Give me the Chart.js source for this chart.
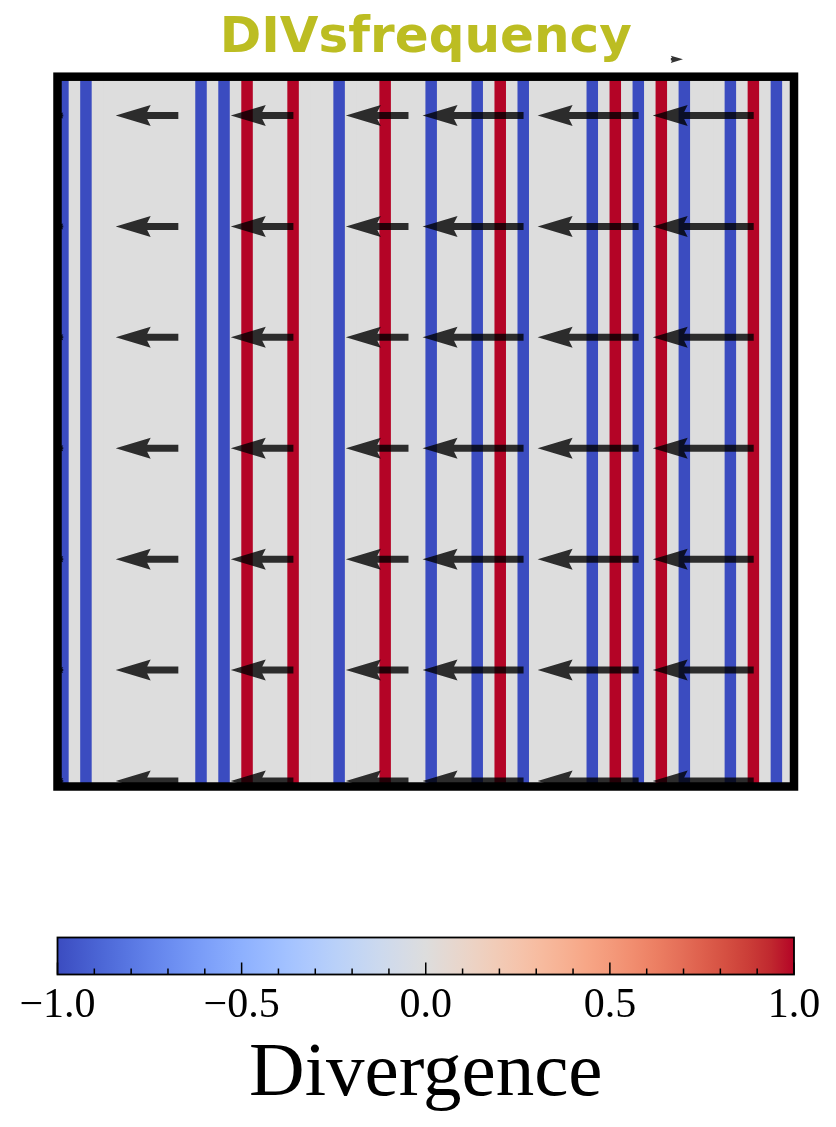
<!DOCTYPE html>
<html><head><meta charset="utf-8">
<script src="https://cdn.jsdelivr.net/npm/chart.js@4.4.1/dist/chart.umd.min.js"></script>
<style>
html,body{margin:0;padding:0;background:#fff;width:836px;height:1127px;overflow:hidden}
#main{position:absolute;left:0;top:0}
#cbar{position:absolute;left:0;top:880px}
</style></head><body>
<canvas id="main" width="836" height="830"></canvas>
<canvas id="cbar" width="836" height="247"></canvas>
<script>
// ---------------- data ----------------
// divergence value of each of the 64 grid columns (field is uniform along y)
const divergence = [
  -1, 0, -1, 0, 0, 0, 0, 0, 0, 0, 0, 0, -1, 0, -1, 0,
   1, 0, 0, 0, 1, 0, 0, 0, -1, 0, 0, 0, 1, 0, 0, 0,
  -1, 0, 0, 0, -1, 0, 1, 0, -1, 0, 0, 0, 0, 0, -1, 0,
   1, 0, -1, 0, 1, 0, -1, 0, 0, 0, -1, 0, 1, 0, -1, 0
];
const gridRows = 64;
const gridCols = 64;
// quiver sample positions (cell centres, every 10th cell)
const quiverX = [0.5, 10.5, 20.5, 30.5, 40.5, 50.5, 60.5];
const quiverY = [0.5, 10.5, 20.5, 30.5, 40.5, 50.5, 60.5];
// velocity components at each quiver column (same for every row)
const quiverU = [-0.1, -0.62, -0.62, -0.62, -1.0, -1.0, -1.0];
const quiverV = [0, 0, 0, 0, 0, 0, 0];
const keyU = 0.12;
// colour bar ticks
const cbTicks = [-1, -0.5, 0, 0.5, 1];
const cbTickLabels = ['\u22121.0', '\u22120.5', '0.0', '0.5', '1.0'];
const cbMinorTicks = [-0.9, -0.8, -0.7, -0.6, -0.4, -0.3, -0.2, -0.1, 0.1, 0.2, 0.3, 0.4, 0.6, 0.7, 0.8, 0.9];

// ---------------- colormap (coolwarm) ----------------
const coolwarmStops = [
  [59,76,192],[68,90,204],[77,104,215],[87,117,225],[98,130,234],[108,142,241],[119,154,247],[130,165,251],
  [141,176,254],[152,185,255],[163,194,255],[174,201,253],[184,208,249],[194,213,244],[204,217,238],[213,219,230],
  [221,221,221],[229,216,209],[236,211,197],[241,204,184],[245,196,172],[247,187,159],[247,177,147],[247,166,134],
  [244,154,123],[241,141,111],[236,127,99],[229,112,89],[222,96,77],[213,80,66],[203,62,56],[192,40,47],[180,4,38]
];
function coolwarm(v) {
  let t = Math.max(0, Math.min(1, (v + 1) / 2)) * (coolwarmStops.length - 1);
  const i = Math.min(Math.floor(t), coolwarmStops.length - 2), f = t - i;
  const a = coolwarmStops[i], b = coolwarmStops[i + 1];
  return 'rgb(' + a.map((c, k) => Math.round(c + (b[k] - c) * f)).join(',') + ')';
}

// ---------------- quiver drawing ----------------
const QSCALE = 8.78;       // x-data units per velocity unit
const QWIDTH = 7;          // shaft width px
const HEADWIDTH = 3, HEADLENGTH = 5, HEADAXIS = 4.5, MINLENGTH = 1;
function arrow(ctx, x0, y0, x1, y1) {
  const w = QWIDTH;
  const L = Math.hypot(x1 - x0, y1 - y0);
  const ang = Math.atan2(y1 - y0, x1 - x0);
  ctx.save();
  ctx.translate(x0, y0); ctx.rotate(ang);
  ctx.beginPath();
  if (L < MINLENGTH * w) {
    for (let k = 0; k < 6; k++) {
      const th = k * Math.PI / 3, r = 0.5 * MINLENGTH * w;
      k ? ctx.lineTo(r * Math.cos(th), r * Math.sin(th)) : ctx.moveTo(r, 0);
    }
  } else {
    let xs, ys;
    if (L < HEADLENGTH * w) {
      const s = L / (HEADLENGTH * w);
      xs = [0, (HEADLENGTH - HEADAXIS) * w * s, 0, L];
      ys = [0.5 * w * s, 0.5 * w * s, 0.5 * HEADWIDTH * w * s, 0];
    } else {
      xs = [0, L - HEADAXIS * w, L - HEADLENGTH * w, L];
      ys = [0.5 * w, 0.5 * w, 0.5 * HEADWIDTH * w, 0];
    }
    ctx.moveTo(xs[0], -ys[0]);
    for (let k = 1; k < 4; k++) ctx.lineTo(xs[k], -ys[k]);
    for (let k = 2; k >= 0; k--) ctx.lineTo(xs[k], ys[k]);
  }
  ctx.closePath();
  ctx.fill();
  ctx.restore();
}

const bgPlugin = {
  id: 'bg',
  beforeDatasetsDraw(chart) {
    const {ctx, chartArea: a} = chart;
    ctx.save(); ctx.fillStyle = coolwarm(0);
    ctx.fillRect(a.left, a.top, a.right - a.left, a.bottom - a.top);
    ctx.restore();
  }
};
const quiverPlugin = {
  id: 'quiver',
  afterDatasetsDraw(chart) {
    const {ctx, chartArea: a, scales: {x, y}} = chart;
    ctx.save();
    ctx.beginPath(); ctx.rect(a.left, a.top, a.right - a.left, a.bottom - a.top); ctx.clip();
    ctx.fillStyle = 'rgba(0,0,0,0.8)';
    quiverY.forEach(qy => quiverX.forEach((qx, i) => {
      arrow(ctx, x.getPixelForValue(qx), y.getPixelForValue(qy),
        x.getPixelForValue(qx + quiverU[i] * QSCALE), y.getPixelForValue(qy + quiverV[i] * QSCALE));
    }));
    ctx.restore();
    // quiver key (axes-fraction position, pivot middle)
    const cx = a.left + 0.841 * (a.right - a.left);
    const cy = a.bottom - 1.0245 * (a.bottom - a.top);
    const L = x.getPixelForValue(keyU * QSCALE) - x.getPixelForValue(0);
    ctx.save(); ctx.fillStyle = 'rgba(0,0,0,0.8)';
    arrow(ctx, cx - L / 2, cy, cx + L / 2, cy);
    ctx.restore();
  }
};
const framePlugin = {
  id: 'frame',
  afterDraw(chart) {
    const {ctx, chartArea: a} = chart;
    ctx.save(); ctx.strokeStyle = '#000'; ctx.lineWidth = 8.5; ctx.lineJoin = 'miter';
    ctx.strokeRect(a.left, a.top, a.right - a.left, a.bottom - a.top);
    ctx.restore();
  }
};

new Chart(document.getElementById('main'), {
  type: 'bar',
  data: {
    datasets: [{
      data: divergence.map((d, i) => ({x: i + 0.5, y: [0, gridRows]})),
      backgroundColor: c => coolwarm(divergence[c.dataIndex]),
      borderWidth: 0,
      barPercentage: 1,
      categoryPercentage: 1
    }]
  },
  options: {
    responsive: false, animation: false, devicePixelRatio: 1,
    layout: {padding: {left: 57.5, right: 42, top: 0, bottom: 43.5}},
    plugins: {
      legend: {display: false}, tooltip: {enabled: false},
      title: {display: true, text: 'DIVsfrequency', color: '#bcbd22', fullSize: false,
        font: {family: 'DejaVu Sans', size: 50, weight: 'bold', lineHeight: 1.2},
        padding: {top: 9.4, bottom: 7.3}}
    },
    scales: {
      x: {type: 'linear', min: 0, max: gridCols, offset: false, display: false},
      y: {type: 'linear', min: 0, max: gridRows, display: false}
    }
  },
  plugins: [bgPlugin, quiverPlugin, framePlugin]
});

// ---------------- colour bar ----------------
const cbPlugin = {
  id: 'cb',
  beforeDatasetsDraw(chart) {
    const {ctx, chartArea: a, scales: {x}} = chart;
    const g = ctx.createLinearGradient(x.getPixelForValue(-1), 0, x.getPixelForValue(1), 0);
    coolwarmStops.forEach((c, i) => g.addColorStop(i / (coolwarmStops.length - 1), 'rgb(' + c.join(',') + ')'));
    ctx.save(); ctx.fillStyle = g;
    ctx.fillRect(a.left, a.top, a.right - a.left, a.bottom - a.top);
    ctx.restore();
  },
  afterDraw(chart) {
    const {ctx, chartArea: a, scales: {x}} = chart;
    ctx.save(); ctx.strokeStyle = '#000'; ctx.lineWidth = 1.5;
    ctx.beginPath();
    cbTicks.forEach(v => { const p = x.getPixelForValue(v); ctx.moveTo(p, a.bottom); ctx.lineTo(p, a.bottom - 12); });
    cbMinorTicks.forEach(v => { const p = x.getPixelForValue(v); ctx.moveTo(p, a.bottom); ctx.lineTo(p, a.bottom - 6); });
    ctx.stroke();
    ctx.lineWidth = 1.8;
    ctx.strokeRect(a.left, a.top, a.right - a.left, a.bottom - a.top);
    ctx.restore();
  }
};
new Chart(document.getElementById('cbar'), {
  type: 'bar',
  data: {datasets: []},
  options: {
    responsive: false, animation: false, devicePixelRatio: 1,
    layout: {padding: {left: 57.5, right: 42, top: 57.5, bottom: 0}},
    plugins: {legend: {display: false}, tooltip: {enabled: false}},
    scales: {
      x: {
        type: 'linear', min: -1, max: 1, offset: false,
        grid: {display: false, drawTicks: false}, border: {display: false},
        afterBuildTicks: s => { s.ticks = cbTicks.map(v => ({value: v})); },
        afterFit: s => { s.height = 152.5; },
        ticks: {callback: (v, i) => cbTickLabels[i], autoSkip: false, maxRotation: 0,
          color: '#000', padding: 6, font: {family: 'Liberation Serif', size: 42}},
        title: {display: true, text: 'Divergence', color: '#000',
          font: {family: 'Liberation Serif', size: 77, lineHeight: 1}, padding: {top: 0, bottom: 14}}
      },
      y: {display: false, min: 0, max: 1}
    }
  },
  plugins: [cbPlugin]
});
</script>
</body></html>
